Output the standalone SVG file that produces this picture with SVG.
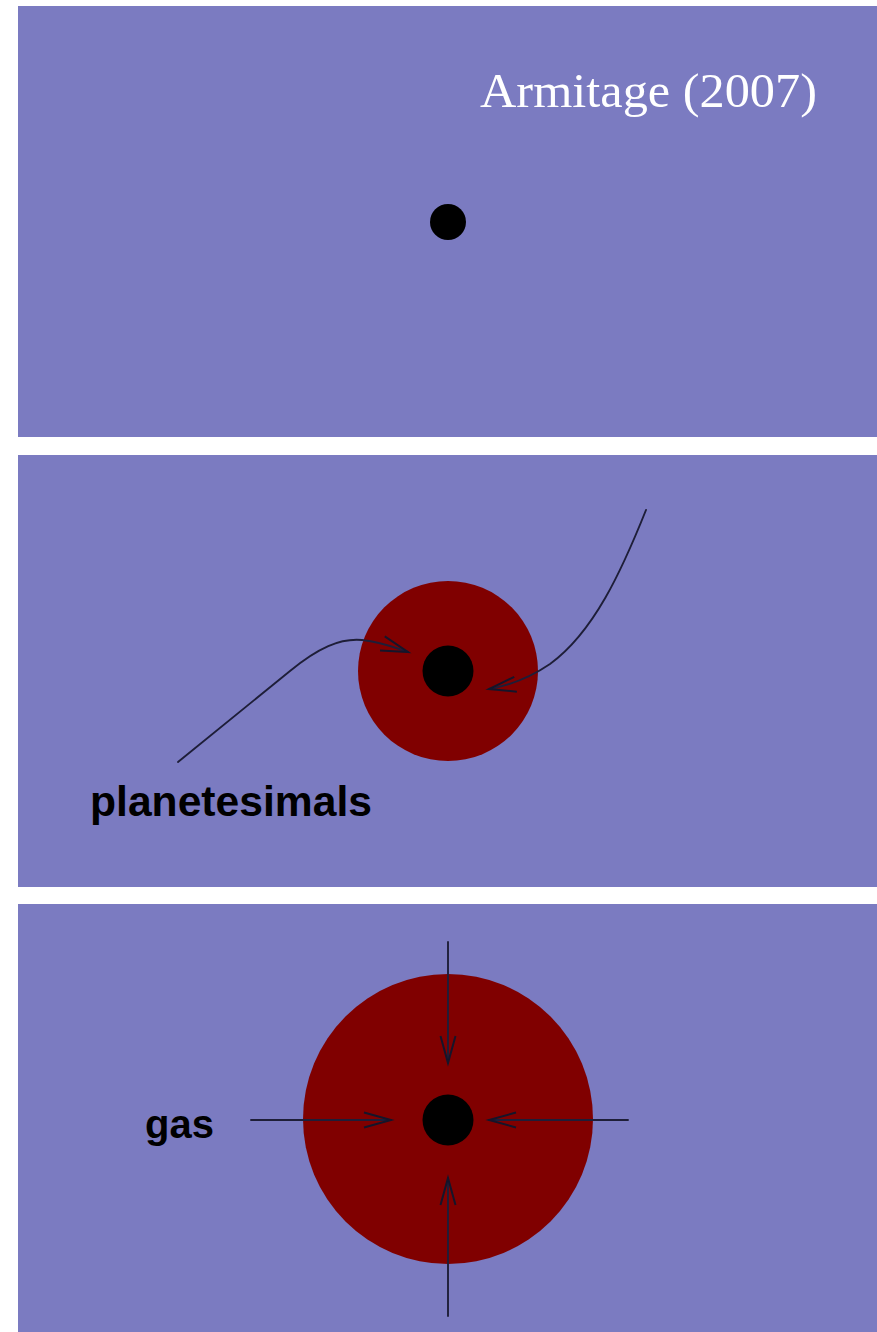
<svg xmlns="http://www.w3.org/2000/svg" width="877" height="1332" viewBox="0 0 877 1332">
<defs>
<style>
.panel{fill:#7b7bc1}
.halo{fill:#800000}
.core{fill:#000}
.arrow{fill:none;stroke:#1e1e38;stroke-width:1.9;stroke-linecap:round;marker-end:url(#head)}
.label{font-family:"Liberation Sans",Arial,sans-serif;font-weight:bold;fill:#000}
</style>
<marker id="head" markerUnits="userSpaceOnUse" markerWidth="40" markerHeight="24" viewBox="-30 -12 34 24" refX="0" refY="0" orient="auto" overflow="visible">
<path d="M-27,-7.5 L0,0 L-27,7.5" fill="none" stroke="#15152a" stroke-width="2" stroke-linejoin="miter"/>
</marker>
</defs>
<rect width="877" height="1332" fill="#fff"/>
<g id="panel1">
<rect class="panel" x="18" y="6" width="859" height="431"/>
<text x="480" y="107" font-family="'Liberation Serif','Times New Roman',serif" font-size="49" fill="#fff" textLength="337" lengthAdjust="spacingAndGlyphs">Armitage (2007)</text>
<circle class="core" cx="448" cy="222" r="18"/>
</g>
<g id="panel2">
<rect class="panel" x="18" y="455" width="859" height="432"/>
<circle class="halo" cx="448" cy="671" r="90"/>
<circle class="core" cx="448" cy="671" r="25.5"/>
<text class="label" x="90" y="816" font-size="42" textLength="282" lengthAdjust="spacingAndGlyphs">planetesimals</text>
</g>
<g id="panel3">
<rect class="panel" x="18" y="904" width="859" height="428"/>
<circle class="halo" cx="448" cy="1119" r="145"/>
<circle class="core" cx="448" cy="1120" r="25.5"/>
<text class="label" x="145" y="1138" font-size="40">gas</text>
</g>
<g id="connectors">
<path class="arrow" d="M178,762 C220,728 262,694 290,671 C318,648 340,638 362,640 C382,642 396,648 408,652"/>
<path class="arrow" d="M646,510 C622,570 594,632 550,664 C528,679 506,686 489,689"/>
<path class="arrow" d="M251,1120 L391,1120"/>
<path class="arrow" d="M628,1120 L489,1120"/>
<path class="arrow" d="M448,942 L448,1063"/>
<path class="arrow" d="M448,1316 L448,1178"/>
</g>
</svg>
